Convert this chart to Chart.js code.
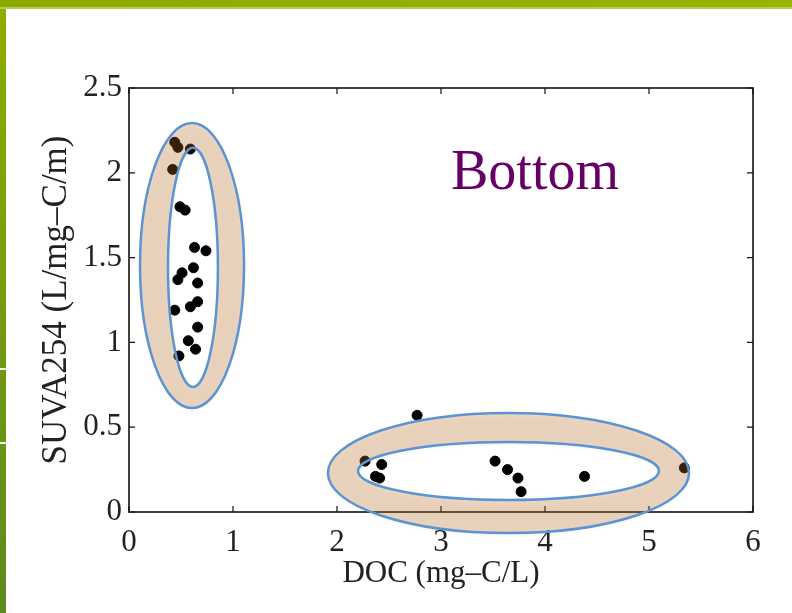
<!DOCTYPE html>
<html>
<head>
<meta charset="utf-8">
<script src="https://cdn.jsdelivr.net/npm/chart.js@4"></script>
<style>
  html, body { margin: 0; padding: 0; background: #fff; }
  #wrap { width: 792px; height: 613px; position: relative; }
</style>
</head>
<body>
<div id="wrap"><canvas id="chart" width="792" height="613"></canvas></div>
<script>
// low DOC group (left ellipse)
const groupA_doc  = [0.44, 0.47, 0.59, 0.42, 0.49, 0.54, 0.63, 0.74, 0.62, 0.51, 0.47, 0.66, 0.66, 0.59, 0.44, 0.66, 0.57, 0.64, 0.48];
const groupA_suva = [2.18, 2.15, 2.14, 2.02, 1.80, 1.78, 1.56, 1.54, 1.44, 1.41, 1.37, 1.35, 1.24, 1.21, 1.19, 1.09, 1.01, 0.96, 0.92];
// high DOC group (right ellipse)
const groupB_doc  = [2.77, 2.27, 2.43, 2.37, 2.41, 3.52, 3.64, 3.74, 3.77, 4.38, 5.34];
const groupB_suva = [0.57, 0.30, 0.28, 0.21, 0.20, 0.30, 0.25, 0.20, 0.12, 0.21, 0.26];

const xTicks = [0, 1, 2, 3, 4, 5, 6];
const yTicks = [0, 0.5, 1, 1.5, 2, 2.5];

// highlight rings in data units: [cx, cy, rx, ry]
const ringA_outer = [0.606, 1.453, 0.50, 0.84];
const ringA_inner = [0.615, 1.442, 0.24, 0.705];
const ringB_outer = [3.649, 0.23, 1.736, 0.354];
const ringB_inner = [3.649, 0.242, 1.447, 0.171];

const serif = '"Liberation Serif", "DejaVu Serif", serif';

function toPoints(xs, ys) {
  return xs.map((x, i) => ({ x: x, y: ys[i] }));
}

// slide background + green bars
const slidePlugin = {
  id: 'slide',
  beforeDraw(chart) {
    const ctx = chart.ctx;
    ctx.save();
    ctx.fillStyle = '#ffffff';
    ctx.fillRect(0, 0, chart.width, chart.height);
    let g = ctx.createLinearGradient(0, 0, 0, chart.height);
    g.addColorStop(0, '#8fad00');
    g.addColorStop(1, '#5c8a1e');
    ctx.fillStyle = g;
    ctx.fillRect(0, 0, 6, chart.height);
    ctx.fillStyle = '#f4f7ea';
    ctx.fillRect(0, 368, 6, 2);
    ctx.fillRect(0, 442, 6, 2);
    g = ctx.createLinearGradient(0, 0, chart.width, 0);
    g.addColorStop(0, '#8aaa00');
    g.addColorStop(1, '#98b400');
    ctx.fillStyle = g;
    ctx.fillRect(0, 0, chart.width, 7);
    ctx.fillStyle = '#b7cc5c';
    ctx.fillRect(0, 7, chart.width, 2);
    ctx.restore();
  }
};

// MATLAB style box with inward ticks
const boxPlugin = {
  id: 'box',
  afterDatasetsDraw(chart) {
    const { ctx, chartArea: a, scales } = chart;
    ctx.save();
    ctx.strokeStyle = '#111';
    ctx.lineWidth = 1.6;
    ctx.strokeRect(a.left, a.top, a.right - a.left, a.bottom - a.top);
    ctx.lineWidth = 1.2;
    ctx.beginPath();
    xTicks.forEach(v => {
      const px = scales.x.getPixelForValue(v);
      ctx.moveTo(px, a.bottom); ctx.lineTo(px, a.bottom - 6);
      ctx.moveTo(px, a.top); ctx.lineTo(px, a.top + 6);
    });
    yTicks.forEach(v => {
      const py = scales.y.getPixelForValue(v);
      ctx.moveTo(a.left, py); ctx.lineTo(a.left + 6, py);
      ctx.moveTo(a.right, py); ctx.lineTo(a.right - 6, py);
    });
    ctx.stroke();
    ctx.restore();
  }
};

// tan rings drawn on top of everything
const ringPlugin = {
  id: 'rings',
  afterDraw(chart) {
    const { ctx, scales } = chart;
    const sx = scales.x, sy = scales.y;
    function ell(p) {
      const cx = sx.getPixelForValue(p[0]);
      const cy = sy.getPixelForValue(p[1]);
      const rx = Math.abs(sx.getPixelForValue(p[0] + p[2]) - cx);
      const ry = Math.abs(sy.getPixelForValue(p[1] + p[3]) - cy);
      return [cx, cy, rx, ry];
    }
    [[ringA_outer, ringA_inner], [ringB_outer, ringB_inner]].forEach(pair => {
      const o = ell(pair[0]), i = ell(pair[1]);
      ctx.save();
      ctx.beginPath();
      ctx.ellipse(o[0], o[1], o[2], o[3], 0, 0, Math.PI * 2);
      ctx.ellipse(i[0], i[1], i[2], i[3], 0, 0, Math.PI * 2, true);
      ctx.shadowColor = 'rgba(0,0,0,0.18)';
      ctx.shadowBlur = 4;
      ctx.shadowOffsetY = 2;
      ctx.fillStyle = 'rgba(200,117,33,0.27)';
      ctx.fill('evenodd');
      ctx.shadowColor = 'transparent';
      ctx.strokeStyle = '#5b93d3';
      ctx.lineWidth = 2.5;
      ctx.beginPath();
      ctx.ellipse(o[0], o[1], o[2], o[3], 0, 0, Math.PI * 2);
      ctx.stroke();
      ctx.beginPath();
      ctx.ellipse(i[0], i[1], i[2], i[3], 0, 0, Math.PI * 2);
      ctx.stroke();
      ctx.restore();
    });
    ctx.save();
    ctx.fillStyle = '#660066';
    ctx.font = '56px ' + serif;
    ctx.textBaseline = 'alphabetic';
    ctx.fillText('Bottom', 451, 189);
    ctx.restore();
  }
};

new Chart(document.getElementById('chart'), {
  type: 'scatter',
  data: {
    datasets: [
      {
        data: toPoints(groupA_doc, groupA_suva),
        backgroundColor: '#000',
        borderColor: '#000',
        pointRadius: 5,
        pointHoverRadius: 5
      },
      {
        data: toPoints(groupB_doc, groupB_suva),
        backgroundColor: '#000',
        borderColor: '#000',
        pointRadius: 5,
        pointHoverRadius: 5
      }
    ]
  },
  options: {
    responsive: false,
    animation: false,
    events: [],
    layout: { padding: { top: 88, right: 39, left: 10, bottom: 21 } },
    plugins: {
      legend: { display: false },
      tooltip: { enabled: false }
    },
    scales: {
      x: {
        type: 'linear',
        min: 0, max: 6,
        afterBuildTicks: s => { s.ticks = xTicks.map(v => ({ value: v })); },
        afterFit: s => { s.height = 80; },
        grid: { display: false, drawTicks: false },
        border: { display: false },
        ticks: { color: '#222', padding: 12, font: { family: serif, size: 31 }, callback: v => String(v) },
        title: {
          display: true,
          text: 'DOC (mg\u2013C/L)',
          color: '#222',
          padding: { top: 0, bottom: 0 },
          font: { family: serif, size: 31 }
        }
      },
      y: {
        type: 'linear',
        min: 0, max: 2.5,
        afterBuildTicks: s => { s.ticks = yTicks.map(v => ({ value: v })); },
        afterFit: s => { s.width = 119; },
        grid: { display: false, drawTicks: false },
        border: { display: false },
        ticks: { color: '#222', padding: 7, font: { family: serif, size: 31 }, callback: v => String(v) },
        title: {
          display: true,
          text: 'SUVA254 (L/mg\u2013C/m)',
          color: '#222',
          padding: { top: 26, bottom: 0 },
          font: { family: serif, size: 35 }
        }
      }
    }
  },
  plugins: [slidePlugin, boxPlugin, ringPlugin]
});
</script>
</body>
</html>
